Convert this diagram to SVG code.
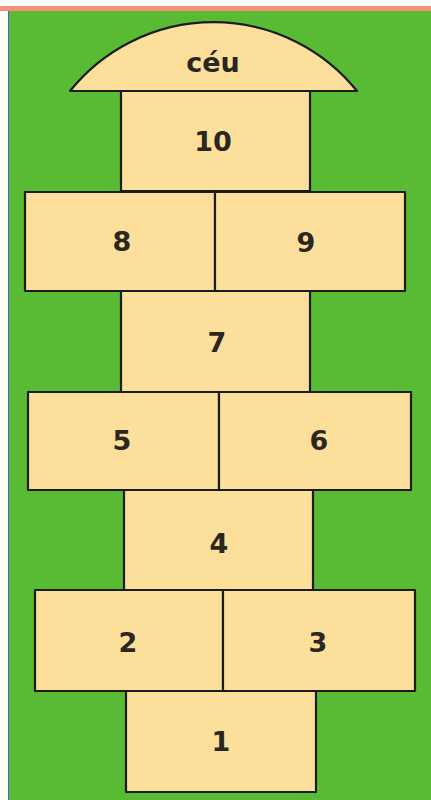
<svg xmlns="http://www.w3.org/2000/svg" width="431" height="800" viewBox="0 0 431 800">
<style>
.cell{fill:#fddf9c;stroke:#1c1c1c;stroke-width:2.2;stroke-linejoin:round}
.lbl{font-family:"DejaVu Sans",Verdana,sans-serif;font-weight:bold;font-size:27px;fill:#2a2620;text-anchor:middle;dominant-baseline:central}
</style>
<rect x="0" y="0" width="431" height="800" fill="#ffffff"/>
<rect x="0" y="6" width="431" height="5" fill="#f3917b"/>
<rect x="9" y="11" width="422" height="789" fill="#58bb33"/>
<line x1="8.5" y1="11" x2="8.5" y2="800" stroke="#4a62c8" stroke-width="1"/>
<g id="ceu"><path class="cell" d="M70,91 A184,184 0 0 1 357,91 Z"/><text class="lbl" x="213" y="62">céu</text></g>
<g id="c10"><rect class="cell" x="121" y="91" width="189" height="100"/><text class="lbl" x="213" y="141">10</text></g>
<g id="c8"><rect class="cell" x="25" y="192" width="190" height="99"/><text class="lbl" x="122" y="241">8</text></g>
<g id="c9"><rect class="cell" x="215" y="192" width="190" height="99"/><text class="lbl" x="306" y="242">9</text></g>
<g id="c7"><rect class="cell" x="121" y="291" width="189" height="101"/><text class="lbl" x="217" y="342">7</text></g>
<g id="c5"><rect class="cell" x="28" y="392" width="191" height="98"/><text class="lbl" x="122" y="440">5</text></g>
<g id="c6"><rect class="cell" x="219" y="392" width="192" height="98"/><text class="lbl" x="319" y="440">6</text></g>
<g id="c4"><rect class="cell" x="124" y="490" width="189" height="100"/><text class="lbl" x="219" y="543">4</text></g>
<g id="c2"><rect class="cell" x="35" y="590" width="188" height="101"/><text class="lbl" x="128" y="642">2</text></g>
<g id="c3"><rect class="cell" x="223" y="590" width="192" height="101"/><text class="lbl" x="318" y="642">3</text></g>
<g id="c1"><rect class="cell" x="126" y="691" width="190" height="101"/><text class="lbl" x="221" y="741">1</text></g>
</svg>
